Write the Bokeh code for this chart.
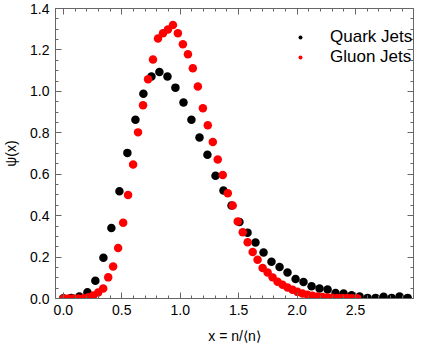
from bokeh.plotting import figure
from bokeh.models import Range1d, FixedTicker, LinearAxis, PrintfTickFormatter, Legend, LegendItem, ColumnDataSource
from bokeh.embed import file_html
from bokeh.resources import INLINE

# ---- data ----
quark_x = [0.000, 0.069, 0.137, 0.206, 0.274, 0.343, 0.411, 0.480, 0.548, 0.617,
           0.685, 0.754, 0.822, 0.891, 0.959, 1.028, 1.096, 1.165, 1.233, 1.302,
           1.370, 1.439, 1.507, 1.576, 1.644, 1.713, 1.781, 1.850, 1.918, 1.987,
           2.055, 2.124, 2.192, 2.261, 2.329, 2.398, 2.466, 2.535, 2.603, 2.672,
           2.740, 2.809, 2.877, 2.946]
quark_y = [0.001, 0.003, 0.010, 0.030, 0.086, 0.197, 0.340, 0.518, 0.703, 0.863,
           0.989, 1.072, 1.094, 1.072, 1.018, 0.946, 0.863, 0.777, 0.694, 0.593,
           0.521, 0.449, 0.369, 0.318, 0.270, 0.222, 0.177, 0.152, 0.125, 0.094,
           0.080, 0.059, 0.048, 0.043, 0.027, 0.024, 0.016, 0.010, 0.003, 0.003,
           0.008, 0.003, 0.010, 0.003]

gluon_x = [0.000, 0.043, 0.085, 0.128, 0.171, 0.213, 0.256, 0.298, 0.341, 0.384,
           0.426, 0.469, 0.512, 0.554, 0.597, 0.639, 0.682, 0.725, 0.767, 0.810,
           0.853, 0.895, 0.938, 0.980, 1.023, 1.066, 1.108, 1.151, 1.194, 1.236,
           1.279, 1.321, 1.364, 1.407, 1.449, 1.492, 1.535, 1.577, 1.620, 1.662,
           1.705, 1.748, 1.790, 1.833, 1.876, 1.918, 1.961, 2.003, 2.046, 2.089,
           2.131, 2.174, 2.217, 2.259, 2.302, 2.344, 2.387, 2.430, 2.472, 2.515]
gluon_y = [0.000, 0.000, 0.000, 0.000, 0.001, 0.006, 0.014, 0.029, 0.048, 0.102,
           0.155, 0.244, 0.366, 0.500, 0.647, 0.802, 0.933, 1.058, 1.154, 1.255,
           1.281, 1.299, 1.320, 1.281, 1.227, 1.179, 1.111, 1.023, 0.919, 0.836,
           0.756, 0.671, 0.596, 0.508, 0.449, 0.372, 0.320, 0.272, 0.225, 0.187,
           0.147, 0.125, 0.102, 0.081, 0.066, 0.053, 0.042, 0.032, 0.024, 0.018,
           0.013, 0.010, 0.007, 0.005, 0.004, 0.003, 0.002, 0.002, 0.001, 0.001]

x_ticks = [0.0, 0.5, 1.0, 1.5, 2.0, 2.5]
y_ticks = [0.0, 0.2, 0.4, 0.6, 0.8, 1.0, 1.2, 1.4]
x_minor = [i / 10 for i in range(0, 30)]
y_minor = [i / 20 for i in range(0, 29)]

FONT = "Liberation Sans"

p = figure(width=414, height=346, output_backend="svg", toolbar_location=None,
           x_range=Range1d(-0.067, 2.996), y_range=Range1d(0.0, 1.4),
           min_border_left=47, min_border_right=1, min_border_top=8, min_border_bottom=46,
           x_axis_label="x = n/⟨n⟩", y_axis_label="ψ(x)")
p.outline_line_color = None
p.grid.visible = False
p.background_fill_color = "white"
p.border_fill_color = "white"

def style_axis(ax, ticks, minor, show_labels):
    ax.ticker = FixedTicker(ticks=ticks, minor_ticks=minor)
    ax.formatter = PrintfTickFormatter(format="%.1f")
    ax.axis_line_color = "#666666"
    ax.major_tick_line_color = "#666666"
    ax.minor_tick_line_color = "#666666"
    ax.major_tick_in = 6
    ax.major_tick_out = 0
    ax.minor_tick_in = 3
    ax.minor_tick_out = 0
    ax.major_label_text_font = FONT
    ax.major_label_text_font_size = "14px"
    ax.major_label_text_color = "black"
    ax.axis_label_text_font = FONT
    ax.axis_label_text_font_size = "14px"
    ax.axis_label_text_font_style = "normal"
    ax.axis_label_text_color = "black"
    if not show_labels:
        ax.major_label_text_font_size = "0px"
        ax.major_label_text_color = None

style_axis(p.xaxis[0], x_ticks, x_minor, True)
style_axis(p.yaxis[0], y_ticks, y_minor, True)
p.xaxis[0].major_label_standoff = 6
p.xaxis[0].axis_label_standoff = 10
p.yaxis[0].major_label_standoff = 6
p.yaxis[0].axis_label_standoff = 8

top = LinearAxis()
right = LinearAxis()
style_axis(top, x_ticks, x_minor, False)
style_axis(right, y_ticks, y_minor, False)
top.major_label_standoff = 0
right.major_label_standoff = 0
p.add_layout(top, "above")
p.add_layout(right, "right")

qsrc = ColumnDataSource(dict(x=quark_x, y=quark_y))
gsrc = ColumnDataSource(dict(x=gluon_x, y=gluon_y))
rq = p.scatter("x", "y", source=qsrc, size=8.5, fill_color="black", line_color=None)
rg = p.scatter("x", "y", source=gsrc, size=8.5, fill_color="#ff0000", line_color=None)

legend = Legend(items=[LegendItem(label="Quark Jets", renderers=[rq]),
                       LegendItem(label="Gluon Jets", renderers=[rg])],
                location=(240, 231), glyph_width=10, glyph_height=10,
                label_standoff=25, label_height=20, spacing=0, padding=0, margin=0,
                border_line_color=None, background_fill_color=None,
                label_text_font=FONT, label_text_font_size="17px",
                label_text_color="black")
p.add_layout(legend)

open("out.html", "w").write(file_html(p, INLINE))
